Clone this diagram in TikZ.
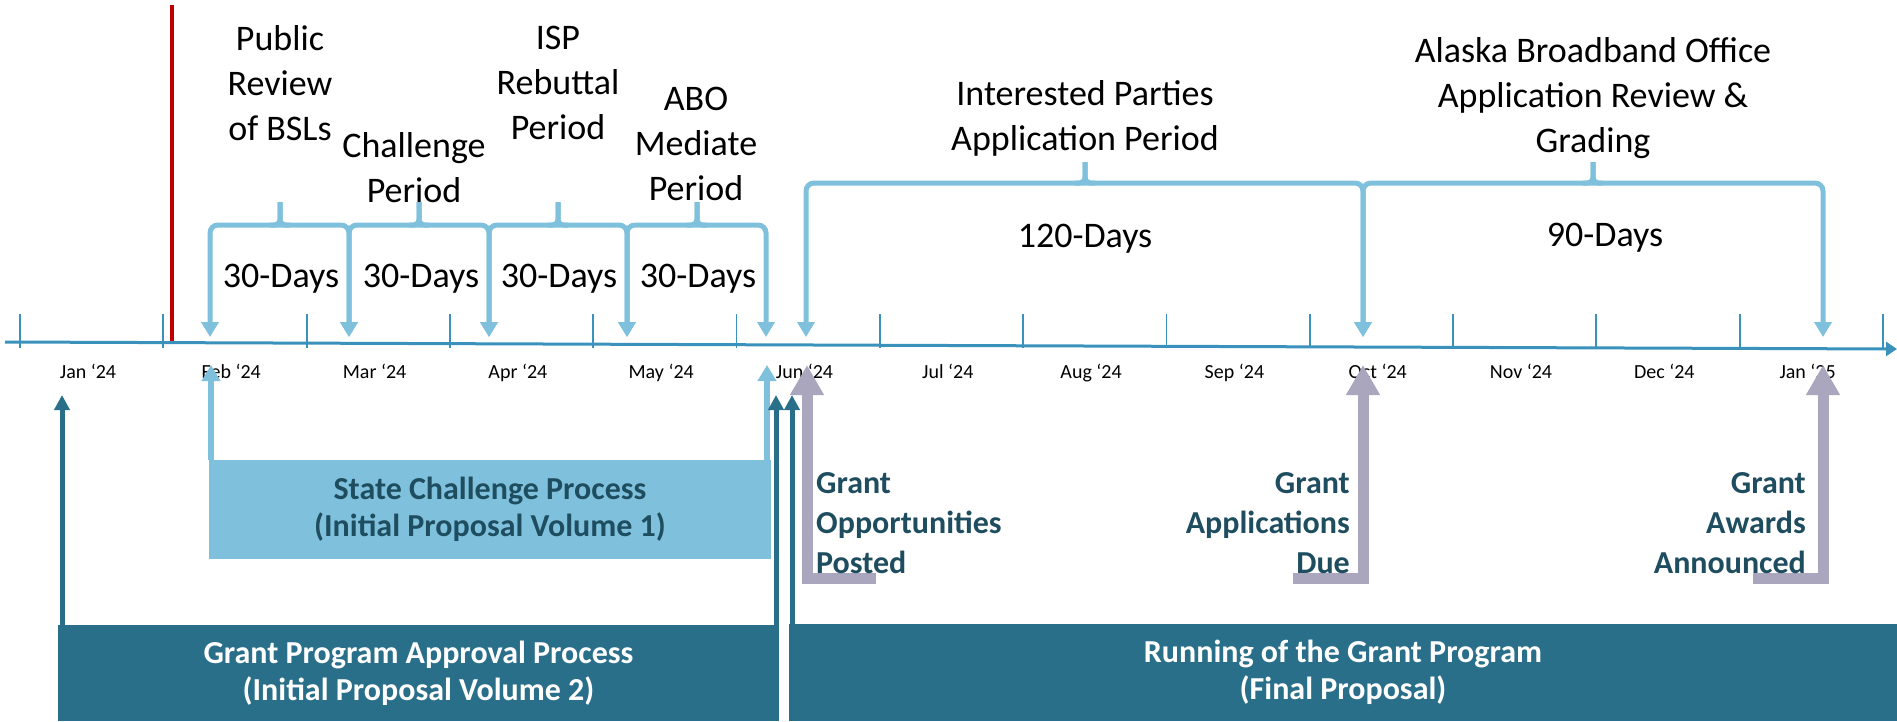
\documentclass[tikz,border=0pt]{standalone}
\usepackage{fontspec}
\setmainfont{Carlito}
\usepackage{tikz}
\usepackage{xcolor}
\usetikzlibrary{positioning,arrows.meta}
\definecolor{axisblue}{HTML}{3A92BC}
\definecolor{lightblue}{HTML}{7FC1DC}
\definecolor{darkteal}{HTML}{2A6F8A}
\definecolor{deeptext}{HTML}{1F4D60}
\definecolor{softgray}{HTML}{A9A6BE}
\definecolor{markred}{HTML}{C00000}

\begin{document}
\begin{tikzpicture}
[
x=1pt, y=-1pt,
axis-line/.style={draw=axisblue, line width=3pt, -{Triangle[width=14pt,length=11pt]}},
tick-line/.style={draw=axisblue, line width=1.8pt},
mark-line/.style={draw=markred, line width=4.5pt},
month-text/.style={black, inner sep=0pt, anchor=base, font=\fontsize{20}{24}\selectfont},
head-text/.style={black, inner sep=0pt, align=center, font=\fontsize{36}{45}\selectfont},
days-text/.style={black, inner sep=0pt, anchor=base, font=\fontsize{36}{44}\selectfont},
brace-line/.style={draw=lightblue, line width=5pt, rounded corners=8pt, {Triangle[width=17pt,length=15pt]}-{Triangle[width=17pt,length=15pt]}},
spike-line/.style={draw=lightblue, line width=5pt, rounded corners=6pt},
box-a/.style={fill=lightblue, text=deeptext, align=center, inner sep=0pt, font=\fontsize{32}{37}\selectfont\bfseries},
box-b/.style={fill=darkteal, text=white, align=center, inner sep=0pt, font=\fontsize{32}{37}\selectfont\bfseries},
note-text/.style={text=deeptext, inner sep=0pt, font=\fontsize{32}{40}\selectfont\bfseries},
up-a/.style={draw=lightblue, line width=6pt, -{Triangle[width=18pt,length=16pt]}},
up-b/.style={draw=darkteal, line width=5pt, -{Triangle[width=15pt,length=15pt]}},
up-c/.style={draw=softgray, line width=11pt, -{Triangle[width=32pt,length=30pt]}}
]
\useasboundingbox (0,0) rectangle (1897,721);

% time axis
\coordinate (axis-l) at (5,342);
\coordinate (axis-r) at (1897,349);
\draw[axis-line] (axis-l) -- (axis-r);
\foreach \k in {0,...,13}
  \draw[tick-line] (20+143.3*\k,314) -- (20+143.3*\k,348);
\foreach \m [count=\k from 0] in {Jan ‘24,Feb ‘24,Mar ‘24,Apr ‘24,May ‘24,Jun ‘24,Jul ‘24,Aug ‘24,Sep ‘24,Oct ‘24,Nov ‘24,Dec ‘24,Jan ‘25}
  \node (month-\k) [month-text] at (88+143.3*\k,378) {\m};

% today marker
\coordinate (mark-top) at (172,5);
\coordinate (mark-bot) at (172,341);
\draw[mark-line] (mark-top) -- (mark-bot);

% challenge braces
\coordinate (tip-1) at (210,337);
\coordinate (tip-2) at (349,337);
\coordinate (tip-3) at (489,337);
\coordinate (tip-4) at (627,337);
\coordinate (tip-5) at (766,337);
\coordinate (mid-1) at (280,225);
\coordinate (mid-2) at (419,225);
\coordinate (mid-3) at (558,225);
\coordinate (mid-4) at (697,225);
\coordinate (top-1) at (280,202);
\coordinate (top-2) at (419,202);
\coordinate (top-3) at (558,202);
\coordinate (top-4) at (697,202);
\draw[brace-line] (tip-1) |- (mid-1) -| (tip-2);
\draw[brace-line] (tip-2) |- (mid-2) -| (tip-3);
\draw[brace-line] (tip-3) |- (mid-3) -| (tip-4);
\draw[brace-line] (tip-4) |- (mid-4) -| (tip-5);
\foreach \k in {1,...,4}
{
  \draw[spike-line] ([xshift=-10pt]mid-\k) -| (top-\k);
  \draw[spike-line] ([xshift=10pt]mid-\k) -| (top-\k);
}
\node (head-1) [head-text] at (280,83)  {Public\\Review\\of BSLs};
\node (head-2) [head-text] at (414,168) {Challenge\\Period};
\node (head-3) [head-text] at (558,83)  {ISP\\Rebuttal\\Period};
\node (head-4) [head-text] at (696,144) {ABO\\Mediate\\Period};
\node (days-1) [days-text] at (281,287) {30-Days};
\node (days-2) [days-text] at (421,287) {30-Days};
\node (days-3) [days-text] at (559,287) {30-Days};
\node (days-4) [days-text] at (698,287) {30-Days};

% application braces
\coordinate (tip-6) at (806,337);
\coordinate (tip-7) at (1363,337);
\coordinate (tip-8) at (1823,337);
\coordinate (mid-6) at (1085,183);
\coordinate (mid-7) at (1593,183);
\coordinate (top-6) at (1085,162);
\coordinate (top-7) at (1593,162);
\draw[brace-line] (tip-6) |- (mid-6) -| (tip-7);
\draw[brace-line] (tip-7) |- (mid-7) -| (tip-8);
\foreach \k in {6,7}
{
  \draw[spike-line] ([xshift=-10pt]mid-\k) -| (top-\k);
  \draw[spike-line] ([xshift=10pt]mid-\k) -| (top-\k);
}
\node (head-6) [head-text] at (1085,118) {Interested Parties\\Application Period};
\node (head-7) [head-text] at (1593,98)  {Alaska Broadband Office\\Application Review \&\\Grading};
\node (days-6) [days-text] at (1085,247) {120-Days};
\node (days-7) [days-text] at (1605,246) {90-Days};

% process boxes
\node (scp) [box-a, minimum width=562pt, minimum height=99pt] at (490,509.5) {State Challenge Process\\(Initial Proposal Volume 1)};
\node (gpa) [box-b, minimum width=721pt, minimum height=96pt] at (418.5,673) {Grant Program Approval Process\\(Initial Proposal Volume 2)};
\node (rgp) [box-b, minimum width=1108pt, minimum height=97pt] at (1343,672.5) {Running of the Grant Program\\(Final Proposal)};

\coordinate (scp-tip-l) at (211,365);
\coordinate (scp-tip-r) at (767,365);
\coordinate (gpa-tip-l) at (62,395);
\coordinate (gpa-tip-r) at (776,395);
\coordinate (rgp-tip) at (792,395);
\draw[up-a] (scp.north -| scp-tip-l) -- (scp-tip-l);
\draw[up-a] (scp.north -| scp-tip-r) -- (scp-tip-r);
\draw[up-b] (gpa.north -| gpa-tip-l) -- (gpa-tip-l);
\draw[up-b] (gpa.north -| gpa-tip-r) -- (gpa-tip-r);
\draw[up-b] (rgp.north -| rgp-tip) -- (rgp-tip);

% milestones
\coordinate (post-tip) at (807,365);
\coordinate (post-end) at (876,578);
\coordinate (due-tip) at (1363,365);
\coordinate (due-end) at (1293,578);
\coordinate (award-tip) at (1823,365);
\coordinate (award-end) at (1753,578);
\draw[up-c] (post-end) -| (post-tip);
\draw[up-c] (due-end) -| (due-tip);
\draw[up-c] (award-end) -| (award-tip);
\node (post) [note-text, anchor=west, align=left]  at (816,523)  {Grant\\Opportunities\\Posted};
\node (due) [note-text, anchor=east, align=right]  at (1350,523) {Grant\\Applications\\Due};
\node (award) [note-text, anchor=east, align=right] at (1806,523) {Grant\\Awards\\Announced};
\end{tikzpicture}
\end{document}
